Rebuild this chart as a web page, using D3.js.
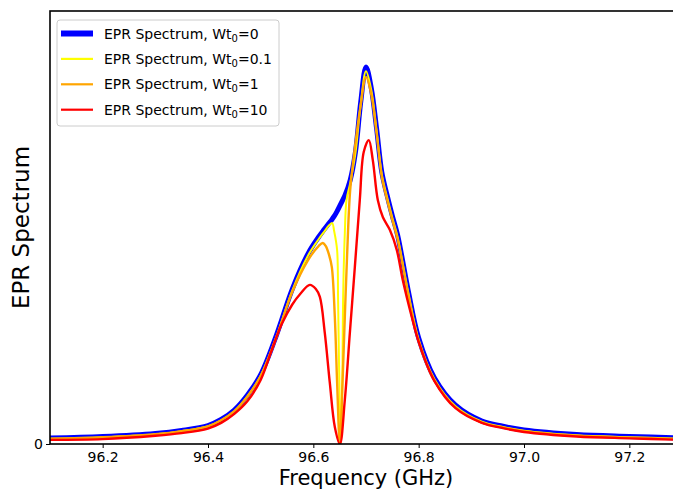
<!DOCTYPE html>
<html>
<head>
<meta charset="utf-8">
<script src="https://cdn.jsdelivr.net/npm/d3@7"></script>
<style>
  body { margin: 0; background: #fff; }
  svg { font-family: "DejaVu Sans", sans-serif; }
</style>
</head>
<body>
<div id="chart-area"></div>
<script>

// Data (frequency in GHz, spectrum in arbitrary units)
let freq0 = [96.10, 96.20, 96.30, 96.35, 96.40, 96.425, 96.45, 96.475, 96.50, 96.53, 96.56, 96.59, 96.61, 96.62, 96.63,
    96.635, 96.64, 96.645, 96.65, 96.655, 96.66, 96.67, 96.68, 96.69, 96.70, 96.71, 96.72, 96.73,
    96.74, 96.75, 96.76, 96.78, 96.80, 96.83, 96.87, 96.92, 96.96, 97.00, 97.10, 97.20, 97.30];
let epr0 = [0.016, 0.020, 0.028, 0.036, 0.049, 0.065, 0.090, 0.130, 0.184, 0.289, 0.411, 0.505, 0.549, 0.568, 0.586,
    0.595, 0.605, 0.617, 0.631, 0.645, 0.659, 0.700, 0.775, 0.907, 1.000, 0.944, 0.838, 0.721,
    0.660, 0.605, 0.554, 0.408, 0.281, 0.175, 0.103, 0.061, 0.047, 0.037, 0.025, 0.020, 0.016];

let freq01 = [96.10, 96.20, 96.30, 96.35, 96.40, 96.425, 96.45, 96.475, 96.50, 96.53, 96.56, 96.59, 96.61, 96.62, 96.63,
    96.6358, 96.6395, 96.6451, 96.6470, 96.6489, 96.6522, 96.6554, 96.6565, 96.6598, 96.6630,
    96.67, 96.68, 96.69, 96.70, 96.71, 96.72, 96.73, 96.74, 96.75, 96.76, 96.78, 96.80, 96.83,
    96.87, 96.92, 96.96, 97.00, 97.10, 97.20, 97.30];
let epr01 = [0.014, 0.018, 0.026, 0.034, 0.047, 0.063, 0.087, 0.127, 0.181, 0.285, 0.407, 0.500, 0.543, 0.562, 0.580,
    0.586, 0.565, 0.515, 0.382, 0.204, 0.000, 0.204, 0.382, 0.560, 0.647,
    0.692, 0.772, 0.902, 0.989, 0.939, 0.833, 0.716, 0.655, 0.600, 0.549, 0.404, 0.277, 0.172,
    0.100, 0.059, 0.045, 0.035, 0.023, 0.018, 0.014];

let freq1 = [96.10, 96.20, 96.30, 96.35, 96.40, 96.425, 96.45, 96.475, 96.50, 96.53, 96.56, 96.59, 96.61, 96.618, 96.6237,
    96.63, 96.6351, 96.6408, 96.6452, 96.6503, 96.6554, 96.6598, 96.6645, 96.67, 96.68, 96.69,
    96.70, 96.71, 96.72, 96.73, 96.74, 96.75, 96.76, 96.78, 96.80, 96.83, 96.87, 96.92, 96.96, 97.00,
    97.10, 97.20, 97.30];
let epr1 = [0.014, 0.018, 0.026, 0.034, 0.047, 0.063, 0.087, 0.126, 0.180, 0.284, 0.403, 0.488, 0.525, 0.533, 0.525,
    0.501, 0.469, 0.337, 0.162, 0.000, 0.162, 0.337, 0.515, 0.674, 0.798, 0.899,
    0.973, 0.928, 0.825, 0.709, 0.648, 0.594, 0.543, 0.398, 0.272, 0.168, 0.097, 0.057, 0.044, 0.034,
    0.022, 0.017, 0.013];

let freq10 = [96.10, 96.20, 96.30, 96.35, 96.40, 96.425, 96.45, 96.475, 96.50, 96.52, 96.54, 96.56, 96.575, 96.5934,
    96.6048, 96.6124, 96.6218, 96.6313, 96.6408, 96.6503, 96.6598, 96.6693, 96.6788, 96.6882,
    96.6958, 96.7053, 96.7129, 96.7224, 96.7319, 96.7452, 96.7584, 96.7698, 96.7869, 96.80,
    96.83, 96.87, 96.92, 96.96, 97.00, 97.10, 97.20, 97.30];
let epr10 = [0.011, 0.013, 0.022, 0.029, 0.041, 0.056, 0.080, 0.114, 0.170, 0.245, 0.318, 0.370, 0.398, 0.422,
    0.411, 0.390, 0.294, 0.162, 0.045, 0.000, 0.117, 0.294, 0.469, 0.647,
    0.775, 0.806, 0.753, 0.647, 0.602, 0.568, 0.515, 0.435, 0.337, 0.271,
    0.167, 0.095, 0.056, 0.042, 0.032, 0.020, 0.015, 0.011];

let seriesLabels = ["0", "0.1", "1", "10"];
let seriesColors = ["#0000ff", "#ffff00", "#ffa500", "#ff0000"];
let seriesWidths = [5, 2, 2.4, 2.4];

let xTicks = [96.2, 96.4, 96.6, 96.8, 97.0, 97.2];
let yTicks = [0];

let series = [
    {freq: freq0, epr: epr0},
    {freq: freq01, epr: epr01},
    {freq: freq1, epr: epr1},
    {freq: freq10, epr: epr10}
];

// SVG drawing area
let margin = {top: 11, left: 50};
let width = 632, height = 433;

let svg = d3.select("#chart-area").append("svg")
    .attr("width", 673)
    .attr("height", 489);

let g = svg.append("g")
    .attr("transform", "translate(" + margin.left + "," + margin.top + ")");

// Scales
let x = d3.scaleLinear()
    .domain([96.1, 97.3])
    .range([0, width]);

let y = d3.scaleLinear()
    .domain([0, 1.1485])
    .range([height, 0]);

g.append("clipPath")
    .attr("id", "clip")
    .append("rect")
    .attr("width", width)
    .attr("height", height);

// Lines
let line = d3.line()
    .x(d => x(d[0]))
    .y(d => y(d[1]))
    .curve(d3.curveCatmullRom.alpha(0.5));

g.append("g")
    .attr("clip-path", "url(#clip)")
    .selectAll("path")
    .data(series)
    .enter().append("path")
    .attr("fill", "none")
    .attr("stroke", (d, i) => seriesColors[i])
    .attr("stroke-width", (d, i) => seriesWidths[i])
    .attr("stroke-linejoin", "round")
    .attr("d", d => line(d.freq.map((f, j) => [f, d.epr[j]])));

// Axes
let xAxis = d3.axisBottom(x)
    .tickValues(xTicks)
    .tickFormat(d3.format(".1f"))
    .tickSize(4)
    .tickPadding(4);

let yAxis = d3.axisLeft(y)
    .tickValues(yTicks)
    .tickFormat(d3.format("d"))
    .tickSize(4)
    .tickPadding(3);

let xAxisGroup = g.append("g")
    .attr("class", "x-axis axis")
    .attr("transform", "translate(0," + height + ")")
    .call(xAxis);

let yAxisGroup = g.append("g")
    .attr("class", "y-axis axis")
    .call(yAxis);

svg.selectAll(".axis text")
    .attr("font-family", "DejaVu Sans, sans-serif")
    .attr("font-size", 14)
    .attr("fill", "#000");
svg.selectAll(".axis .domain").remove();
svg.selectAll(".axis line").attr("stroke", "#000").attr("stroke-width", 1);

// Spines
g.append("rect")
    .attr("width", width)
    .attr("height", height)
    .attr("fill", "none")
    .attr("stroke", "#000")
    .attr("stroke-width", 1.6);

// Axis labels
svg.append("text")
    .attr("x", margin.left + x(96.7))
    .attr("y", 485)
    .attr("text-anchor", "middle")
    .attr("font-size", 21)
    .text("Frequency (GHz)");

svg.append("text")
    .attr("transform", "translate(29," + (margin.top + height / 2) + ") rotate(-90)")
    .attr("text-anchor", "middle")
    .attr("font-size", 23)
    .text("EPR Spectrum");

// Legend
let legend = svg.append("g")
    .attr("transform", "translate(57,20)");

legend.append("rect")
    .attr("width", 222)
    .attr("height", 106)
    .attr("rx", 3)
    .attr("fill", "#fff")
    .attr("fill-opacity", 0.8)
    .attr("stroke", "#cccccc")
    .attr("stroke-width", 1);

let items = legend.selectAll(".legend-item")
    .data(seriesLabels)
    .enter().append("g")
    .attr("class", "legend-item")
    .attr("transform", (d, i) => "translate(0," + (13.5 + i * 25.4) + ")");

items.append("line")
    .attr("x1", 4)
    .attr("x2", 36)
    .attr("stroke", (d, i) => seriesColors[i])
    .attr("stroke-width", (d, i) => i === 0 ? 6 : 2.2);

let label = items.append("text")
    .attr("x", 47)
    .attr("y", 5)
    .attr("font-size", 14)
    .attr("fill", "#000");

label.append("tspan").text("EPR Spectrum, Wt");
label.append("tspan")
    .attr("font-size", 10)
    .attr("dy", 3)
    .text("0");
label.append("tspan")
    .attr("dy", -3)
    .text(d => "=" + d);

</script>
</body>
</html>
